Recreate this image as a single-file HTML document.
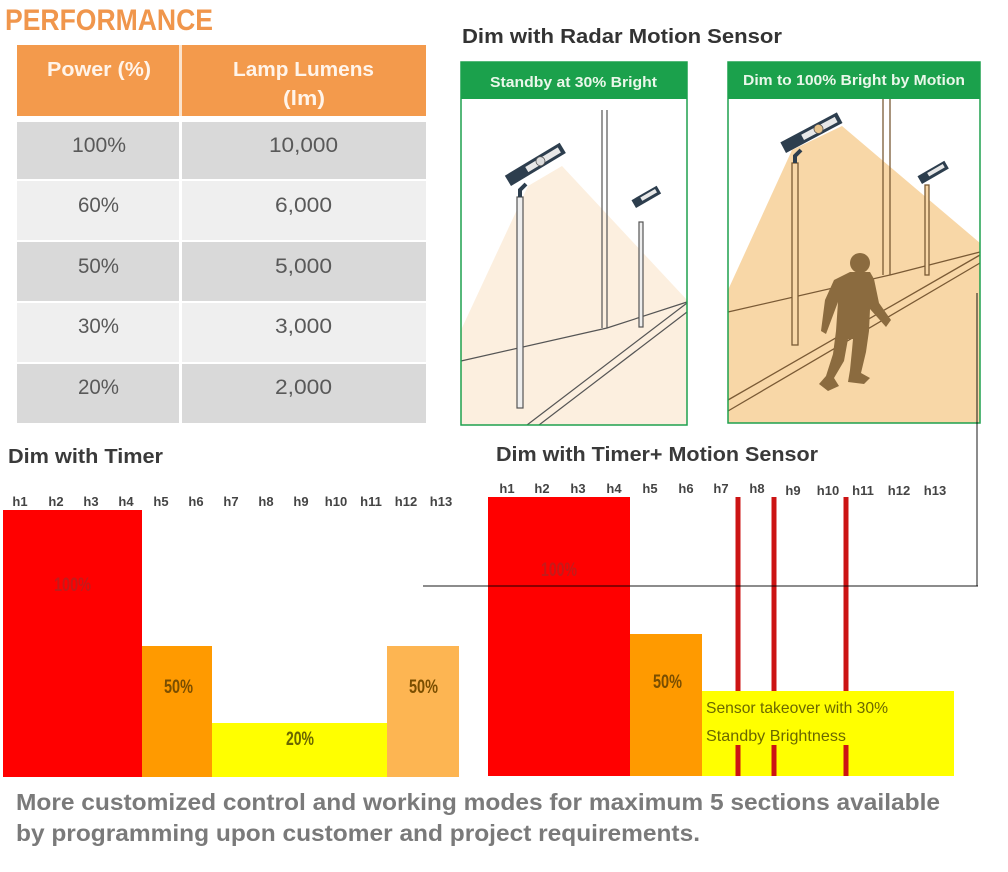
<!DOCTYPE html>
<html>
<head>
<meta charset="utf-8">
<style>
html,body{margin:0;padding:0;background:#fff;}
svg{display:block;}
text{font-family:"Liberation Sans",Arial,sans-serif;}
.n{font-family:"Liberation Sans Narrow","Liberation Sans",Arial,sans-serif;}
</style>
</head>
<body>
<svg width="1008" height="872" viewBox="0 0 1008 872" xmlns="http://www.w3.org/2000/svg">
<rect width="1008" height="872" fill="#fff"/>

<!-- PERFORMANCE title -->
<text x="5" y="30" font-size="30" font-weight="bold" fill="#F0964C" textLength="208" lengthAdjust="spacingAndGlyphs">PERFORMANCE</text>

<!-- Table -->
<rect x="17" y="45" width="409" height="71" fill="#F39A4C"/>
<rect x="179" y="45" width="3" height="71" fill="#FBE3CC"/>
<text x="47" y="76" font-size="20" font-weight="bold" fill="#FFF4EA" textLength="104" lengthAdjust="spacingAndGlyphs">Power (%)</text>
<text x="233" y="76" font-size="20" font-weight="bold" fill="#FFF4EA" textLength="141" lengthAdjust="spacingAndGlyphs">Lamp Lumens</text>
<text x="283" y="105" font-size="20" font-weight="bold" fill="#FFF4EA" textLength="42" lengthAdjust="spacingAndGlyphs">(lm)</text>

<g>
<rect x="17" y="122" width="162" height="57" fill="#D9D9D9"/>
<rect x="182" y="122" width="244" height="57" fill="#D9D9D9"/>
<rect x="17" y="181" width="162" height="59" fill="#EFEFEF"/>
<rect x="182" y="181" width="244" height="59" fill="#EFEFEF"/>
<rect x="17" y="242" width="162" height="59" fill="#D9D9D9"/>
<rect x="182" y="242" width="244" height="59" fill="#D9D9D9"/>
<rect x="17" y="303" width="162" height="59" fill="#EFEFEF"/>
<rect x="182" y="303" width="244" height="59" fill="#EFEFEF"/>
<rect x="17" y="364" width="162" height="59" fill="#D9D9D9"/>
<rect x="182" y="364" width="244" height="59" fill="#D9D9D9"/>
</g>
<g font-size="21" fill="#595959">
<text x="72" y="152" textLength="54" lengthAdjust="spacingAndGlyphs">100%</text>
<text x="269" y="152" textLength="69" lengthAdjust="spacingAndGlyphs">10,000</text>
<text x="78" y="212" textLength="41" lengthAdjust="spacingAndGlyphs">60%</text>
<text x="275" y="212" textLength="57" lengthAdjust="spacingAndGlyphs">6,000</text>
<text x="78" y="273" textLength="41" lengthAdjust="spacingAndGlyphs">50%</text>
<text x="275" y="273" textLength="57" lengthAdjust="spacingAndGlyphs">5,000</text>
<text x="78" y="333" textLength="41" lengthAdjust="spacingAndGlyphs">30%</text>
<text x="275" y="333" textLength="57" lengthAdjust="spacingAndGlyphs">3,000</text>
<text x="78" y="394" textLength="41" lengthAdjust="spacingAndGlyphs">20%</text>
<text x="275" y="394" textLength="57" lengthAdjust="spacingAndGlyphs">2,000</text>
</g>

<!-- Radar title -->
<text x="462" y="43" font-size="20" font-weight="bold" fill="#333" textLength="320" lengthAdjust="spacingAndGlyphs">Dim with Radar Motion Sensor</text>

<!-- Left panel -->
<rect x="461" y="62" width="226" height="363" fill="#fff"/>
<polygon points="528,186 562,166 687,300 687,425 461,425 461,330" fill="#FCEFDF"/>
<g stroke="#555" stroke-width="1.2" fill="none">
<line x1="602" y1="110" x2="602" y2="328"/>
<line x1="607" y1="110" x2="607" y2="328"/>
<polyline points="461,361 607,328 687,302"/>
<line x1="527" y1="425" x2="687" y2="303"/>
<line x1="539" y1="425" x2="687" y2="312"/>
<rect x="517" y="197" width="6" height="211" fill="#eee"/>
<rect x="639" y="222" width="4" height="105" fill="#eee"/>
</g>
<path d="M520 197 L520 190 L526 184" stroke="#2d3e4e" stroke-width="4" fill="none"/>
<g transform="translate(511,186) rotate(-31)">
<rect x="0" y="-12" width="64" height="12" fill="#2d3e4e"/>
<rect x="22" y="-9" width="38" height="6" fill="#e8e8e8"/>
<circle cx="38" cy="-6" r="4.5" fill="#ddd" stroke="#555" stroke-width="0.8"/>
</g>
<g transform="translate(636,208) rotate(-30)">
<rect x="0" y="-9" width="29" height="9" fill="#2d3e4e"/>
<rect x="9" y="-7" width="17" height="4" fill="#e8e8e8"/>
</g>
<rect x="461" y="62" width="226" height="363" fill="none" stroke="#1FA14E" stroke-width="1.5"/>
<rect x="461" y="62" width="226" height="37" fill="#1BA14C"/>
<text x="490" y="87" font-size="15" font-weight="bold" fill="#EAF7EA" textLength="167" lengthAdjust="spacingAndGlyphs">Standby at 30%  Bright</text>

<!-- Right panel -->
<rect x="728" y="62" width="252" height="361" fill="#fff"/>
<polygon points="792,150 842,126 980,243 980,423 728,423 728,290" fill="#F8D7A7"/>
<g stroke="#7A5A35" stroke-width="1.3" fill="none">
<line x1="883" y1="99" x2="883" y2="275"/>
<line x1="890" y1="99" x2="890" y2="275"/>
<polyline points="728,312 890,275 980,252"/>
<line x1="728" y1="400" x2="980" y2="255"/>
<line x1="728" y1="411" x2="980" y2="263"/>
<rect x="792" y="163" width="6" height="182" fill="#F8D7A7"/>
<rect x="925" y="185" width="4" height="90" fill="#F8D7A7"/>
</g>
<path d="M795 163 L795 156 L801 150" stroke="#2d3e4e" stroke-width="4" fill="none"/>
<g transform="translate(786,153) rotate(-28)">
<rect x="0" y="-12" width="64" height="12" fill="#2d3e4e"/>
<rect x="22" y="-9" width="38" height="6" fill="#e8e8e8"/>
<circle cx="40" cy="-6" r="4.5" fill="#E8C48C" stroke="#555" stroke-width="0.8"/>
</g>
<g transform="translate(922,184) rotate(-30)">
<rect x="0" y="-9" width="31" height="9" fill="#2d3e4e"/>
<rect x="10" y="-7" width="18" height="4" fill="#e8e8e8"/>
</g>
<!-- person -->
<g fill="#8B6B3F">
<circle cx="860" cy="263" r="10"/>
<path d="M850 272 L870 272 L874 279 L879 303 L891 320 L886 327 L870 309 L869 331 L866 352 L861 373 L870 378 L864 384 L848 382 L850 370 L852 350 L853 339 L848 339 L844 361 L834 378 L839 386 L828 391 L819 384 L826 376 L833 354 L836 331 L838 302 L829 326 L826 334 L821 331 L825 300 L834 280 Z"/>
</g>
<rect x="728" y="62" width="252" height="361" fill="none" stroke="#1FA14E" stroke-width="1.5"/>
<rect x="728" y="62" width="252" height="37" fill="#1BA14C"/>
<text x="743" y="85" font-size="15" font-weight="bold" fill="#EAF7EA" textLength="222" lengthAdjust="spacingAndGlyphs">Dim to 100% Bright by Motion</text>

<!-- Left timer chart -->
<text x="8" y="463" font-size="20" font-weight="bold" fill="#3a3a3a" textLength="155" lengthAdjust="spacingAndGlyphs">Dim with Timer</text>
<g class="n" font-size="13" font-weight="bold" fill="#444" text-anchor="middle">
<text x="20" y="506">h1</text><text x="56" y="506">h2</text><text x="91" y="506">h3</text><text x="126" y="506">h4</text>
<text x="161" y="506">h5</text><text x="196" y="506">h6</text><text x="231" y="506">h7</text><text x="266" y="506">h8</text>
<text x="301" y="506">h9</text><text x="336" y="506">h10</text><text x="371" y="506">h11</text><text x="406" y="506">h12</text><text x="441" y="506">h13</text>
</g>
<rect x="3" y="510" width="139" height="267" fill="#FF0000"/>
<rect x="142" y="646" width="70" height="131" fill="#FF9A00"/>
<rect x="212" y="723" width="175" height="54" fill="#FFFF00"/>
<rect x="387" y="646" width="72" height="131" fill="#FDB552"/>
<g class="n" font-size="19" font-weight="bold">
<text x="54" y="591" fill="#C41A1A" textLength="37" lengthAdjust="spacingAndGlyphs">100%</text>
<text x="164" y="693" fill="#7A4E00" textLength="29" lengthAdjust="spacingAndGlyphs">50%</text>
<text x="286" y="745" fill="#6A6600" textLength="28" lengthAdjust="spacingAndGlyphs">20%</text>
<text x="409" y="693" fill="#7A4E00" textLength="29" lengthAdjust="spacingAndGlyphs">50%</text>
</g>

<!-- Right timer+motion chart -->
<text x="496" y="461" font-size="20" font-weight="bold" fill="#3a3a3a" textLength="322" lengthAdjust="spacingAndGlyphs">Dim with Timer+ Motion Sensor</text>
<g class="n" font-size="13" font-weight="bold" fill="#444" text-anchor="middle">
<text x="507" y="493">h1</text><text x="542" y="493">h2</text><text x="578" y="493">h3</text><text x="614" y="493">h4</text>
<text x="650" y="493">h5</text><text x="686" y="493">h6</text><text x="721" y="493">h7</text><text x="757" y="493">h8</text>
<text x="793" y="495">h9</text><text x="828" y="495">h10</text><text x="863" y="495">h11</text><text x="899" y="495">h12</text><text x="935" y="495">h13</text>
</g>
<rect x="488" y="497" width="142" height="279" fill="#FF0000"/>
<rect x="630" y="634" width="72" height="142" fill="#FF9A00"/>
<rect x="702" y="691" width="252" height="85" fill="#FFFF00"/>
<g stroke="#CC1414" stroke-width="5">
<line x1="738" y1="497" x2="738" y2="691"/>
<line x1="774" y1="497" x2="774" y2="691"/>
<line x1="846" y1="497" x2="846" y2="691"/>
<line x1="738" y1="745" x2="738" y2="776"/>
<line x1="774" y1="745" x2="774" y2="776"/>
<line x1="846" y1="745" x2="846" y2="776"/>
</g>
<g class="n" font-size="19" font-weight="bold">
<text x="541" y="576" fill="#C41A1A" textLength="36" lengthAdjust="spacingAndGlyphs">100%</text>
<text x="653" y="688" fill="#7A4E00" textLength="29" lengthAdjust="spacingAndGlyphs">50%</text>
</g>
<text class="n" x="706" y="713" font-size="16" fill="#6B6800" textLength="182" lengthAdjust="spacingAndGlyphs">Sensor takeover with 30%</text>
<text class="n" x="706" y="741" font-size="16" fill="#6B6800" textLength="140" lengthAdjust="spacingAndGlyphs">Standby Brightness</text>

<!-- overlay lines -->
<line x1="423" y1="586" x2="978" y2="586" stroke="#000" stroke-opacity="0.6" stroke-width="1.5"/>
<line x1="977" y1="293" x2="977" y2="586" stroke="#000" stroke-opacity="0.6" stroke-width="1.5"/>

<!-- bottom text -->
<text x="16" y="810" font-size="23" font-weight="bold" fill="#7A7A7A" textLength="924" lengthAdjust="spacingAndGlyphs">More customized control and working modes for maximum 5 sections available</text>
<text x="16" y="841" font-size="23" font-weight="bold" fill="#7A7A7A" textLength="684" lengthAdjust="spacingAndGlyphs">by programming upon customer and project requirements.</text>
</svg>
</body>
</html>
